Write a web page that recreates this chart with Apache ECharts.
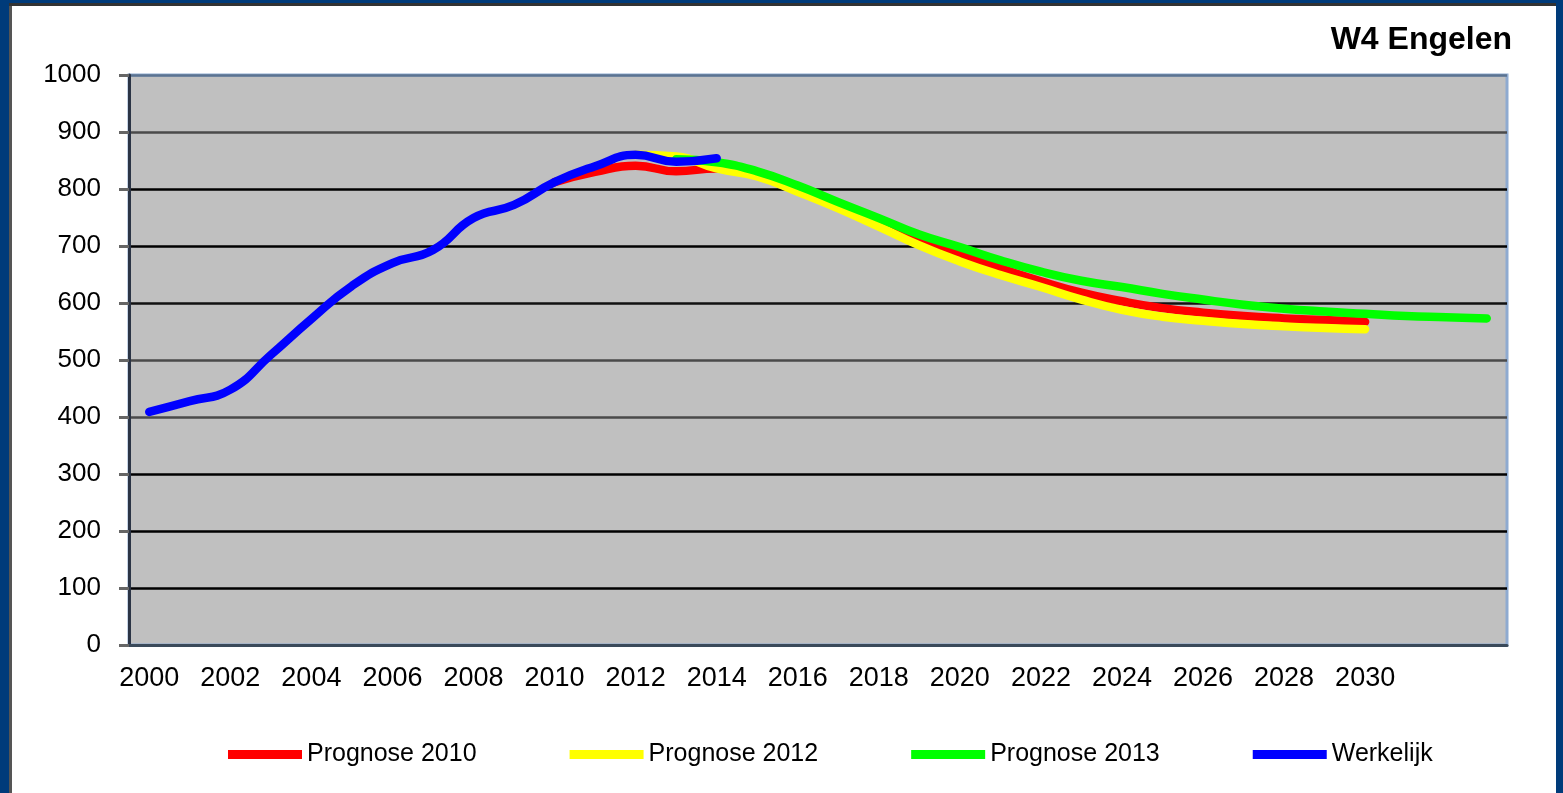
<!DOCTYPE html>
<html>
<head>
<meta charset="utf-8">
<title>W4 Engelen</title>
<script src="https://cdn.jsdelivr.net/npm/echarts@6/dist/echarts.min.js"></script>
<style>
  html, body { margin: 0; padding: 0; background: #fff; }
  #chart { width: 1563px; height: 793px; }
</style>
</head>
<body>
<div id="chart"></div>
<script>
// years on the category axis (labels after 2030 stay empty)
const years = [];
for (let y = 2000; y <= 2033; y++) years.push(String(y));

// values, one per year starting at 2000 (null = no value)
const werkelijk = [409, 428, 448, 509, 572, 630, 670, 693, 749, 772, 812, 840, 860, 848, 854];
const prognose2010 = [null, null, null, null, null, null, null, null, null, null,
  812, 830, 841, 831, 836, 824, 798, 770, 741, 711, 685, 661, 638, 618, 603, 591, 583, 577, 573, 570, 567];
const prognose2012 = [null, null, null, null, null, null, null, null, null, null, null, null,
  860, 857, 836, 822, 795, 766, 734, 701, 673, 649, 628, 606, 588, 576, 569, 563, 559, 556, 554];
const prognose2013 = [null, null, null, null, null, null, null, null, null, null, null, null, null,
  852, 847, 831, 806, 777, 749, 720, 698, 675, 655, 639, 628, 616, 606, 597, 590, 585, 581, 577, 575, 573];

const seriesNames = ['Prognose 2010', 'Prognose 2012', 'Prognose 2013', 'Werkelijk'];
const seriesColors = ['#ff0000', '#ffff00', '#00ff00', '#0000ff'];
const seriesData = [prognose2010, prognose2012, prognose2013, werkelijk];

const font = 'Liberation Sans, Arial, sans-serif';

let myChart = echarts.init(document.getElementById('chart'));

const option = {
  backgroundColor: '#ffffff',
  animation: false,
  title: {
    text: 'W4 Engelen',
    right: 51,
    top: 24,
    padding: 0,
    textStyle: { color: '#000', fontSize: 32, fontWeight: 'bold', fontFamily: font }
  },
  legend: {
    data: seriesNames.map((n, i) => ({ name: n, icon: 'rect', itemStyle: { color: seriesColors[i] } })),
    left: 223,
    top: 737,
    itemWidth: 74,
    itemHeight: 9,
    itemGap: 93,
    textStyle: { color: '#000', fontSize: 25, fontFamily: font }
  },
  grid: {
    left: 129,
    right: 56,
    top: 75,
    bottom: 148,
    show: true,
    backgroundColor: '#c0c0c0',
    borderColor: '#8eaad0',
    borderWidth: 3
  },
  xAxis: {
    type: 'category',
    data: years,
    boundaryGap: true,
    axisLine: { lineStyle: { color: '#3a4a5a', width: 3 } },
    axisTick: { interval: 0, length: 10, lineStyle: { color: '#333', width: 2 } },
    axisLabel: {
      interval: 1,
      margin: 20,
      color: '#000',
      fontSize: 27,
      fontFamily: font,
      formatter: v => (Number(v) > 2030 ? '' : v)
    },
    splitLine: { show: false }
  },
  yAxis: {
    type: 'value',
    min: 0,
    max: 1000,
    interval: 100,
    axisLine: { show: true, lineStyle: { color: '#2b3445', width: 3 } },
    axisTick: { show: true, length: 10, lineStyle: { color: '#666', width: 3 } },
    axisLabel: { margin: 28, color: '#000', fontSize: 26, fontFamily: font, formatter: v => String(v) },
    splitLine: {
      show: true,
      lineStyle: {
        width: 2.5,
        color: ['#3a4a5a', '#000', '#000', '#000', '#4a4a4a', '#4a4a4a', '#111', '#000', '#000', '#4a4a4a', '#5b7391']
      }
    }
  },
  series: seriesNames.map((n, i) => ({
    name: n,
    type: 'line',
    data: seriesData[i],
    smooth: 0.5,
    showSymbol: false,
    symbol: 'none',
    connectNulls: false,
    lineStyle: { color: seriesColors[i], width: 8.5, cap: 'round', join: 'round' },
    itemStyle: { color: seriesColors[i] },
    z: 2 + i
  })),
  graphic: [
    // dark blue frame round the picture
    { type: 'rect', shape: { x: 0, y: 0, width: 9, height: 793 }, style: { fill: '#003b7a' }, silent: true },
    { type: 'rect', shape: { x: 9, y: 6, width: 3, height: 787 }, style: { fill: '#555' }, silent: true },
    { type: 'rect', shape: { x: 0, y: 0, width: 1563, height: 3 }, style: { fill: '#003b7a' }, silent: true },
    { type: 'rect', shape: { x: 9, y: 3, width: 1554, height: 3 }, style: { fill: '#333' }, silent: true },
    { type: 'rect', shape: { x: 1556, y: 0, width: 7, height: 793 }, style: { fill: '#003b7a' }, silent: true }
  ]
};

myChart.setOption(option);
</script>
</body>
</html>
